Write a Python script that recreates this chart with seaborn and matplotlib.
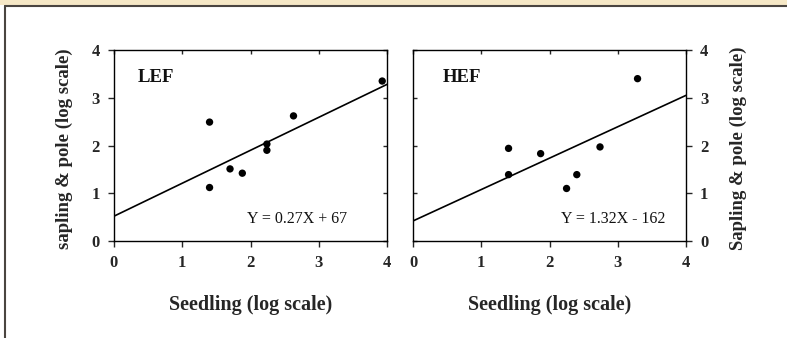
import numpy as np
import pandas as pd
import seaborn as sns
import matplotlib
matplotlib.use("Agg")
from matplotlib import pyplot as plt
from matplotlib.patches import Rectangle

# 数据
lef_x = [1.40, 1.40, 1.70, 1.88, 2.24, 2.24, 2.63, 3.93]
lef_y = [2.49, 1.12, 1.51, 1.42, 2.03, 1.90, 2.62, 3.35]
hef_x = [1.40, 1.40, 1.87, 2.25, 2.40, 2.74, 3.29]
hef_y = [1.94, 1.39, 1.83, 1.10, 1.39, 1.97, 3.40]

# 拟合线两端
line_x = [0, 4]
lef_line_y = [0.52, 3.28]
hef_line_y = [0.42, 3.05]

ticks = [0, 1, 2, 3, 4]
lef_eq = "Y = 0.27X + 67"
hef_eq = "Y = 1.32X - 162"

sns.set_style("ticks")
plt.rcParams['font.family'] = ['Liberation Serif', 'DejaVu Serif']
plt.rcParams['axes.linewidth'] = 1.0
plt.rcParams['text.color'] = '#111111'

fig = plt.figure(figsize=(7.87, 3.38), dpi=100)
fig.patch.set_facecolor('white')

# 外框装饰
fig.add_artist(Rectangle((0, 1 - 5 / 338), 1, 5 / 338, transform=fig.transFigure,
                         facecolor='#f6e8c6', edgecolor='none'))
fig.add_artist(plt.Line2D([4.5 / 787, 1], [1 - 5.5 / 338] * 2, transform=fig.transFigure,
                          color='#4a4540', lw=1.5))
fig.add_artist(plt.Line2D([4.5 / 787] * 2, [0, 1 - 5.5 / 338], transform=fig.transFigure,
                          color='#4a4540', lw=1.5))

ax1 = fig.add_axes([114 / 787, 97 / 338, 273 / 787, 191 / 338])
ax2 = fig.add_axes([413 / 787, 97 / 338, 273 / 787, 191 / 338])


def draw(ax, x, y, ly, name, eq, eq_x, side):
    df = pd.DataFrame({'x': x, 'y': y})
    sns.scatterplot(data=df, x='x', y='y', ax=ax, color='black', s=28, edgecolor='none', zorder=3)
    sns.lineplot(x=line_x, y=ly, ax=ax, color='black', lw=1.2)
    ax.set_xlim(0, 4)
    ax.set_ylim(0, 4)
    ax.set_xticks(ticks)
    ax.set_yticks(ticks)
    for sp in ax.spines.values():
        sp.set_visible(True)
        sp.set_color('black')
    ax.tick_params(axis='x', which='both', bottom=True, top=True, direction='out',
                   length=4, width=1, labelsize=12, pad=6)
    ax.tick_params(axis='y', which='both', left=True, right=True, direction='out',
                   length=4, width=1, labelsize=12, pad=6)
    ax.text(0.35 if name == 'LEF' else 0.44, 3.42, name, fontsize=13.5, fontweight='bold', va='center')
    ax.text(eq_x, 0.47, eq, fontsize=11.5, va='center')
    ax.set_xlabel('Seedling (log scale)', fontsize=14.5, fontweight='bold')
    ax.xaxis.set_label_coords(0.5, -0.283)
    if side == 'left':
        ax.set_ylabel('sapling & pole (log scale)', fontsize=13.5, fontweight='bold')
        ax.yaxis.set_label_coords(-0.150, 0.484)
    else:
        ax.yaxis.tick_right()
        ax.yaxis.set_label_position('right')
        ax.set_ylabel('Sapling & pole (log scale)', fontsize=13.5, fontweight='bold', rotation=90)
        ax.yaxis.set_label_coords(1.161, 0.484)


draw(ax1, lef_x, lef_y, lef_line_y, 'LEF', lef_eq, 1.95, 'left')
draw(ax2, hef_x, hef_y, hef_line_y, 'HEF', hef_eq, 2.17, 'right')

# 对面的短刻度朝内
ax1.tick_params(axis='x', top=True, labeltop=False)
ax1.tick_params(axis='y', right=True, labelright=False)
ax2.tick_params(axis='y', left=True, labelleft=False)
for ax in (ax1, ax2):
    for t in ax.xaxis.get_major_ticks():
        t.tick2line.set_marker(3)
        t.tick2line.set_markersize(3)
        t.label1.set_fontweight('bold')
    for t in ax.yaxis.get_major_ticks():
        t.label1.set_fontweight('bold')
        t.label2.set_fontweight('bold')
for t in ax1.yaxis.get_major_ticks():
    t.tick2line.set_marker(0)
    t.tick2line.set_markersize(3)
for t in ax2.yaxis.get_major_ticks():
    t.tick1line.set_marker(1)
    t.tick1line.set_markersize(3)

fig.savefig('out.png', dpi=100, facecolor='white')
